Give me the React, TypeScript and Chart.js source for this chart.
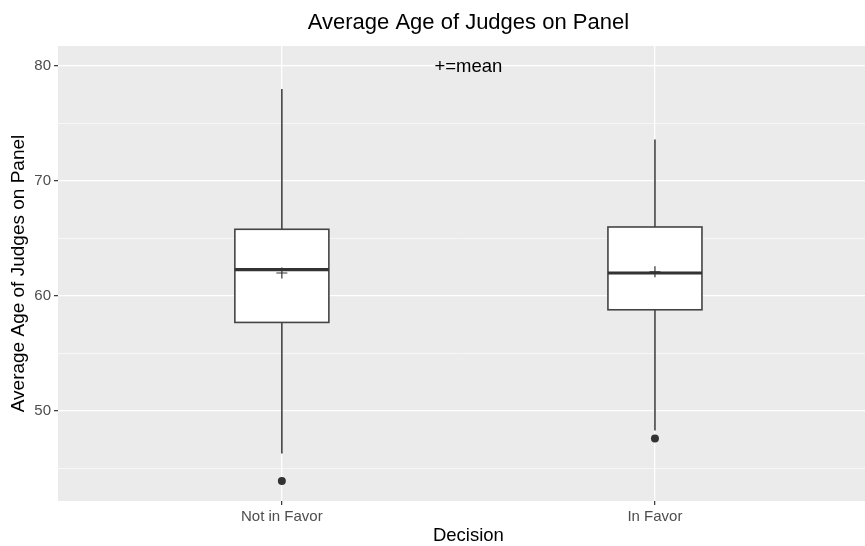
import React, { useEffect, useRef } from "react";
import { Chart, registerables } from "chart.js";

Chart.register(...registerables);

const categories = ["Not in Favor", "In Favor"];
const whiskerLow = [46.3, 48.3];
const q1 = [57.7, 58.8];
const median = [62.3, 62.0];
const q3 = [65.8, 66.0];
const whiskerHigh = [78.0, 73.6];
const means = [62.0, 62.1];
const outliers = [[43.9], [47.6]];
const yTicks = [45, 50, 55, 60, 65, 70, 75, 80];

const TITLE = "Average Age of Judges on Panel";
const Y_TITLE = "Average Age of Judges on Panel";
const X_TITLE = "Decision";
const NOTE = "+=mean";
const NOTE_Y = 80;
const BOX_WIDTH = 0.252;
const FONT = "'Liberation Sans', Arial, sans-serif";
const DARK = "#333333";

const boxPlugin = {
  id: "ggBoxes",
  beforeDraw(chart: any) {
    const { ctx, chartArea: a } = chart;
    ctx.save();
    ctx.fillStyle = "#EBEBEB";
    ctx.fillRect(a.left, a.top, a.right - a.left, a.bottom - a.top);
    ctx.restore();
  },
  beforeDatasetsDraw(chart: any) {
    const { ctx } = chart;
    const x = chart.scales.x;
    const y = chart.scales.y;
    ctx.save();
    categories.forEach((_, i) => {
      const cx = x.getPixelForValue(i + 1);
      const l = x.getPixelForValue(i + 1 - BOX_WIDTH / 2);
      const r = x.getPixelForValue(i + 1 + BOX_WIDTH / 2);
      const yHi = y.getPixelForValue(whiskerHigh[i]);
      const yQ3 = y.getPixelForValue(q3[i]);
      const yQ1 = y.getPixelForValue(q1[i]);
      const yLo = y.getPixelForValue(whiskerLow[i]);
      const yMed = y.getPixelForValue(median[i]);
      ctx.strokeStyle = "#444444";
      ctx.lineWidth = 1.6;
      ctx.beginPath();
      ctx.moveTo(cx, yHi);
      ctx.lineTo(cx, yQ3);
      ctx.moveTo(cx, yQ1);
      ctx.lineTo(cx, yLo);
      ctx.stroke();
      ctx.fillStyle = "#FFFFFF";
      ctx.fillRect(l, yQ3, r - l, yQ1 - yQ3);
      ctx.strokeRect(l, yQ3, r - l, yQ1 - yQ3);
      ctx.strokeStyle = DARK;
      ctx.lineWidth = 3.2;
      ctx.beginPath();
      ctx.moveTo(l, yMed);
      ctx.lineTo(r, yMed);
      ctx.stroke();
    });
    ctx.restore();
  },
  afterDraw(chart: any) {
    const { ctx, chartArea: a } = chart;
    const x = chart.scales.x;
    const y = chart.scales.y;
    const midX = x.getPixelForValue(1.5);
    ctx.save();
    ctx.fillStyle = "#000000";
    ctx.textAlign = "center";
    ctx.textBaseline = "middle";
    ctx.font = `22px ${FONT}`;
    ctx.fillText(TITLE, midX, 23);
    ctx.font = `18.5px ${FONT}`;
    ctx.fillText(X_TITLE, midX, 536);
    ctx.fillText(NOTE, x.getPixelForValue(1.5), y.getPixelForValue(NOTE_Y) + 1);
    ctx.translate(19, (a.top + a.bottom) / 2);
    ctx.rotate(-Math.PI / 2);
    ctx.font = `19px ${FONT}`;
    ctx.fillText(Y_TITLE, 0, 0);
    ctx.restore();
  },
};

export default function App() {
  const ref = useRef<HTMLCanvasElement | null>(null);
  useEffect(() => {
    document.body.style.margin = "0";
    const canvas = ref.current;
    if (!canvas) return;
    const chart = new Chart(canvas, {
      type: "scatter",
      data: {
        datasets: [
          {
            label: "outliers",
            data: outliers.flatMap((vals, i) => vals.map((v) => ({ x: i + 1, y: v }))),
            pointRadius: 4,
            pointBackgroundColor: DARK,
            pointBorderColor: DARK,
            pointBorderWidth: 0,
          },
          {
            label: "mean",
            data: means.map((m, i) => ({ x: i + 1, y: m })),
            pointStyle: "cross",
            pointRadius: 5.5,
            pointBorderColor: DARK,
            pointBorderWidth: 1.2,
          },
        ],
      },
      options: {
        responsive: false,
        animation: false,
        devicePixelRatio: 1,
        layout: { autoPadding: false, padding: { top: 46, left: 0, right: 0, bottom: 0 } },
        plugins: {
          legend: { display: false },
          tooltip: { enabled: false },
          title: { display: false },
        },
        scales: {
          x: {
            type: "linear",
            min: 0.4,
            max: 2.563,
            afterBuildTicks: (s: any) => {
              s.ticks = categories.map((_, i) => ({ value: i + 1 }));
            },
            afterFit: (s: any) => {
              s.height = 45;
            },
            ticks: {
              autoSkip: false,
              maxRotation: 0,
              padding: 3,
              color: "#4D4D4D",
              font: { family: FONT, size: 15 },
              callback: (v: any) => categories[Number(v) - 1] ?? "",
            },
            grid: {
              color: "#FFFFFF",
              lineWidth: 1.3,
              tickColor: DARK,
              tickLength: 4,
              tickWidth: 1.2,
            },
            border: { display: false },
          },
          y: {
            type: "linear",
            min: 42.17,
            max: 81.74,
            afterBuildTicks: (s: any) => {
              s.ticks = yTicks.map((v) => ({ value: v }));
            },
            afterFit: (s: any) => {
              s.width = 58;
            },
            ticks: {
              padding: 3,
              color: "#4D4D4D",
              font: { family: FONT, size: 15 },
              callback: (v: any) => (Number(v) % 10 === 0 ? String(v) : ""),
            },
            grid: {
              color: "#FFFFFF",
              lineWidth: (c: any) => (c.tick && c.tick.value % 10 === 0 ? 1.3 : 0.6),
              tickColor: (c: any) =>
                c.tick && c.tick.value % 10 === 0 ? DARK : "rgba(0,0,0,0)",
              tickLength: 4,
              tickWidth: 1.2,
            },
            border: { display: false },
          },
        },
      },
      plugins: [boxPlugin],
    });
    return () => chart.destroy();
  }, []);
  return (
    <canvas
      ref={ref}
      width={865}
      height={546}
      style={{ display: "block", width: 865, height: 546 }}
    />
  );
}
